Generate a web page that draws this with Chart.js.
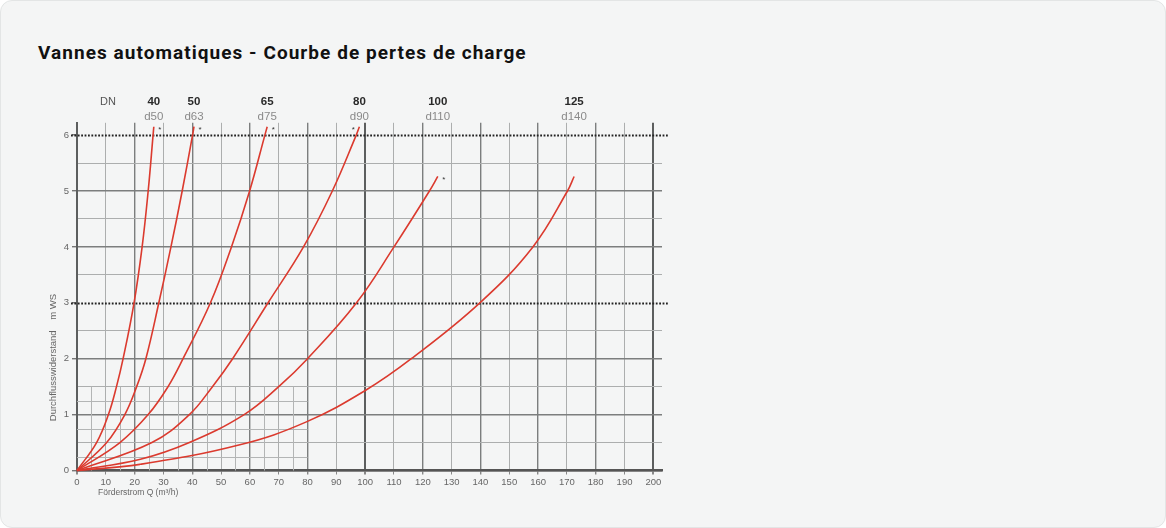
<!DOCTYPE html>
<html>
<head>
<meta charset="utf-8">
<title>Vannes automatiques - Courbe de pertes de charge</title>
<script src="https://cdn.jsdelivr.net/npm/chart.js@4.4.1/dist/chart.umd.min.js"></script>
<style>
  html, body { margin: 0; padding: 0; background: #fff; }
  .card {
    position: absolute; left: 0; top: 0;
    width: 1164px; height: 526px;
    background: #f4f5f5;
    border: 1px solid #e3e5e5;
    border-radius: 12px;
  }
  .card h2 {
    position: absolute; left: 37px; top: 40px; margin: 0;
    font: 700 19px Roboto, "Liberation Sans", sans-serif;
    color: #111;
    letter-spacing: 1.05px;
  }
  #chart-box { position: absolute; left: 0; top: 80px; width: 700px; height: 440px; }
</style>
</head>
<body>
<div class="card">
  <h2>Vannes automatiques - Courbe de pertes de charge</h2>
</div>
<div id="chart-box"><canvas id="lossChart" width="700" height="440"></canvas></div>

<script>
// valve sizes
const sizesDN = ['40', '50', '65', '80', '100', '125'];
const sizesD = ['d50', 'd63', 'd75', 'd90', 'd110', 'd140'];

// flow Q (m3/h) against head loss (m WS), one pair per valve size
const flowDN40 = [0, 6.8, 10.9, 13.7, 16.0, 19.8, 22.6, 24.7, 26.4, 26.65];
const headDN40 = [0, 0.5, 1, 1.5, 2, 3, 4, 5, 6, 6.15];
const flowDN50 = [0, 10.3, 16.6, 20.7, 23.9, 28.4, 32.6, 36.5, 40.1, 40.6];
const headDN50 = [0, 0.5, 1, 1.5, 2, 3, 4, 5, 6, 6.15];
const flowDN65 = [0, 14.9, 24.7, 31.6, 36.8, 46.3, 53.6, 59.9, 65.2, 66.0];
const headDN65 = [0, 0.5, 1, 1.5, 2, 3, 4, 5, 6, 6.15];
const flowDN80 = [0, 26.0, 39.0, 47.0, 54.0, 66.3, 78.6, 88.6, 96.9, 98.0];
const headDN80 = [0, 0.5, 1, 1.5, 2, 3, 4, 5, 6, 6.15];
const flowDN100 = [0, 22.0, 39.0, 58.0, 70.0, 80.0, 97.0, 110.0, 122.3, 125.2];
const headDN100 = [0, 0.2, 0.5, 1, 1.5, 2, 3, 4, 5, 5.26];
const flowDN125 = [0, 21.8, 56.5, 79.6, 100.3, 116.0, 139.8, 158.2, 170.2, 172.5];
const headDN125 = [0, 0.11, 0.46, 0.87, 1.44, 2, 3, 4, 5, 5.26];

// which side of the curve end carries the small star (1 right, -1 left, 0 none)
const starSide = [1, 1, 1, -1, 1, 0];

// axis ticks and grid lines
const xTickValues = [0, 10, 20, 30, 40, 50, 60, 70, 80, 90, 100, 110, 120, 130, 140, 150, 160, 170, 180, 190, 200];
const yGridValues = [0, 0.5, 1, 1.5, 2, 2.5, 3, 3.5, 4, 4.5, 5, 5.5, 6];
const dottedHeads = [3, 6];
// finer grid in the low-flow corner
const fineFlows = [5, 15, 25, 35, 45, 55, 65, 75];
const fineHeads = [0.25, 0.75, 1.25];
const fineFlowMax = 80;
const fineHeadMax = 1.5;

const curveFlows = [flowDN40, flowDN50, flowDN65, flowDN80, flowDN100, flowDN125];
const curveHeads = [headDN40, headDN50, headDN65, headDN80, headDN100, headDN125];

const FONT = '"Liberation Sans", Arial, sans-serif';

const datasets = sizesDN.map((dn, i) => ({
  label: 'DN ' + dn,
  data: curveFlows[i].map((q, j) => ({ x: q, y: curveHeads[i][j] })),
  borderColor: '#db3a2e',
  borderWidth: 1.6,
  pointRadius: 0,
  tension: 0.4,
  clip: false,
  fill: false
}));

const chartNotes = {
  id: 'chartNotes',
  beforeDatasetsDraw(chart) {
    const { ctx, chartArea, scales: { x, y } } = chart;
    ctx.save();
    ctx.strokeStyle = '#b3b5b5';
    ctx.lineWidth = 1;
    const y0 = y.getPixelForValue(0);
    fineFlows.forEach(q => {
      const px = Math.round(x.getPixelForValue(q)) + 0.5;
      ctx.beginPath();
      ctx.moveTo(px, y0);
      ctx.lineTo(px, y.getPixelForValue(fineHeadMax));
      ctx.stroke();
    });
    fineHeads.forEach(h => {
      const py = Math.round(y.getPixelForValue(h)) + 0.5;
      ctx.beginPath();
      ctx.moveTo(x.getPixelForValue(0), py);
      ctx.lineTo(x.getPixelForValue(fineFlowMax), py);
      ctx.stroke();
    });
    // dotted reference lines
    ctx.strokeStyle = '#222';
    ctx.lineWidth = 1.8;
    ctx.setLineDash([1.8, 1.6]);
    dottedHeads.forEach(h => {
      const py = Math.round(y.getPixelForValue(h)) + 0.5;
      ctx.beginPath();
      ctx.moveTo(chartArea.left - 6, py);
      ctx.lineTo(chartArea.right + 6, py);
      ctx.stroke();
    });
    ctx.restore();
  },
  afterDatasetsDraw(chart) {
    const { ctx, chartArea, scales: { x, y } } = chart;
    const top6 = y.getPixelForValue(6);
    ctx.save();
    ctx.textAlign = 'center';
    ctx.textBaseline = 'middle';

    ctx.font = '11px ' + FONT;
    ctx.fillStyle = '#555';
    ctx.fillText('DN', chartArea.left + 31, top6 - 33);

    chart.data.datasets.forEach((ds, i) => {
      const last = ds.data[ds.data.length - 1];
      const px = x.getPixelForValue(last.x);
      const py = y.getPixelForValue(last.y);
      ctx.font = 'bold 11.5px ' + FONT;
      ctx.fillStyle = '#2a2a2a';
      ctx.fillText(sizesDN[i], px, top6 - 33);
      ctx.font = '11.5px ' + FONT;
      ctx.fillStyle = '#8a8a8a';
      ctx.fillText(sizesD[i], px, top6 - 18);
      if (starSide[i] !== 0) {
        ctx.font = '8px ' + FONT;
        ctx.fillStyle = '#333';
        ctx.fillText('*', px + starSide[i] * 6, py + 3);
      }
    });

    // axis titles
    ctx.font = '8.5px ' + FONT;
    ctx.fillStyle = '#666';
    ctx.textAlign = 'left';
    ctx.fillText('Förderstrom Q (m³/h)', chartArea.left + 21, chartArea.bottom + 22);

    ctx.translate(chartArea.left - 24, y.getPixelForValue(2.02));
    ctx.rotate(-Math.PI / 2);
    ctx.textAlign = 'center';
    ctx.font = '9.5px ' + FONT;
    ctx.fillText('Durchflusswiderstand    m WS', 0, 0);
    ctx.restore();
  }
};

new Chart(document.getElementById('lossChart'), {
  type: 'line',
  data: { datasets: datasets },
  options: {
    responsive: false,
    animation: false,
    devicePixelRatio: 1,
    layout: { padding: { top: 42.8, right: 38, left: 0, bottom: 0 } },
    plugins: {
      legend: { display: false },
      tooltip: { enabled: false }
    },
    scales: {
      x: {
        type: 'linear',
        min: 0,
        max: 203,
        afterBuildTicks: scale => { scale.ticks = xTickValues.map(v => ({ value: v })); },
        afterFit: scale => { scale.height = 49.5; },
        ticks: {
          autoSkip: false,
          maxRotation: 0,
          color: '#666',
          padding: 2,
          font: { family: FONT, size: 9.5 }
        },
        grid: {
          color: ctx => {
            const v = ctx.tick ? ctx.tick.value : 0;
            if (v % 100 === 0) return '#5c5e5e';
            return v % 20 === 0 ? '#7c7e7e' : '#acaeae';
          },
          lineWidth: ctx => {
            const v = ctx.tick ? ctx.tick.value : 0;
            if (v % 100 === 0) return 2;
            return v % 20 === 0 ? 1.4 : 1;
          },
          tickLength: 4,
          tickColor: '#888'
        },
        border: { color: '#555', width: 2.5 }
      },
      y: {
        min: 0,
        max: 6.22,
        afterBuildTicks: scale => { scale.ticks = yGridValues.map(v => ({ value: v })); },
        afterFit: scale => { scale.width = 77; },
        ticks: {
          autoSkip: false,
          color: '#666',
          padding: 3,
          font: { family: FONT, size: 9.5 },
          callback: v => (Number.isInteger(v) ? String(v) : '')
        },
        grid: {
          color: ctx => {
            const v = ctx.tick ? ctx.tick.value : 0;
            if (dottedHeads.includes(v)) return 'rgba(0,0,0,0)';
            return Number.isInteger(v) ? '#7c7e7e' : '#acaeae';
          },
          lineWidth: ctx => {
            const v = ctx.tick ? ctx.tick.value : 0;
            return Number.isInteger(v) ? 1.4 : 1;
          },
          tickLength: 5,
          tickColor: ctx => {
            const v = ctx.tick ? ctx.tick.value : 0;
            return Number.isInteger(v) ? '#777' : 'rgba(0,0,0,0)';
          }
        },
        border: { color: '#5c5e5e', width: 2 }
      }
    }
  },
  plugins: [chartNotes]
});
</script>
</body>
</html>
